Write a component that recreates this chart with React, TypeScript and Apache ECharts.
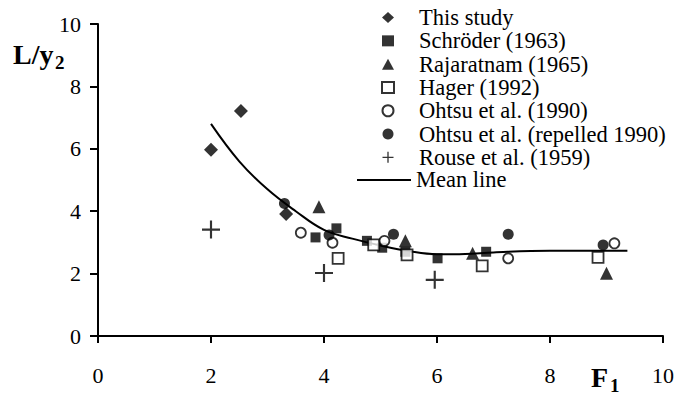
import React, { useEffect, useRef } from "react";
import * as echarts from "echarts";

// Hydraulic jump length ratio L/y2 against inflow Froude number F1
const thisStudy: [number, number][] = [
  [2.0, 5.97],
  [2.53, 7.21],
  [3.33, 3.91],
];
const schroder: [number, number][] = [
  [3.85, 3.16],
  [4.22, 3.45],
  [4.76, 3.05],
  [5.03, 2.83],
  [5.44, 2.7],
  [6.01, 2.49],
  [6.87, 2.7],
];
const rajaratnam: [number, number][] = [
  [3.91, 4.14],
  [5.44, 3.05],
  [6.63, 2.65],
  [9.0, 2.01],
];
const hager: [number, number][] = [
  [4.25, 2.49],
  [4.88, 2.92],
  [5.47, 2.6],
  [6.8, 2.25],
  [8.85, 2.52],
];
const ohtsu: [number, number][] = [
  [3.59, 3.31],
  [4.15, 2.99],
  [5.07, 3.05],
  [7.26, 2.49],
  [9.14, 2.97],
];
const ohtsuRepelled: [number, number][] = [
  [3.3, 4.25],
  [4.09, 3.24],
  [5.23, 3.26],
  [7.26, 3.26],
  [8.94, 2.92],
];
const rouse: [number, number][] = [
  [2.0, 3.41],
  [4.0, 2.02],
  [5.96, 1.8],
];
const meanLine: [number, number][] = [
  [2.0, 6.8],
  [2.5, 5.6],
  [3.0, 4.7],
  [3.5, 4.0],
  [4.0, 3.4],
  [4.5, 3.12],
  [5.0, 2.9],
  [5.5, 2.72],
  [6.0, 2.62],
  [6.5, 2.63],
  [7.0, 2.68],
  [8.0, 2.73],
  [9.37, 2.73],
];

const seriesNames = [
  "This study",
  "Schröder (1963)",
  "Rajaratnam (1965)",
  "Hager (1992)",
  "Ohtsu et al. (1990)",
  "Ohtsu et al. (repelled 1990)",
  "Rouse et al. (1959)",
];
const meanName = "Mean line";

const SERIF = "Times New Roman, Liberation Serif, DejaVu Serif, serif";
const PLUS = "path://M0,4.4H4.4V0H5.6V4.4H10V5.6H5.6V10H4.4V5.6H0Z";

export default function App() {
  const ref = useRef<HTMLDivElement>(null);

  useEffect(() => {
    if (!ref.current) return;
    const chart = echarts.init(ref.current, null, { renderer: "svg" });

    const filled = { color: "#000" };
    const hollow = { color: "#fff", borderColor: "#000", borderWidth: 1.8 };

    const scatter = (
      name: string,
      data: [number, number][],
      symbol: string,
      symbolSize: number,
      itemStyle: any
    ) => ({
      type: "scatter",
      name,
      data,
      symbol,
      symbolSize,
      itemStyle,
      z: 3,
    });

    const legendText = {
      fontFamily: SERIF,
      fontSize: 22.5,
      color: "#000",
      lineHeight: 23.3,
    };

    chart.setOption({
      animation: false,
      backgroundColor: "#fff",
      textStyle: { fontFamily: SERIF },
      grid: { left: 98, right: 14, top: 24, bottom: 63 },
      legend: [
        {
          data: seriesNames,
          orient: "vertical",
          left: 381,
          top: 5.9,
          padding: 0,
          itemWidth: 12,
          itemHeight: 11,
          itemGap: 0,
          selectedMode: false,
          textStyle: { ...legendText, padding: [0, 0, 0, 20] },
        },
        {
          data: [{ name: meanName, icon: "rect" }],
          orient: "vertical",
          left: 357,
          top: 168.3,
          padding: 0,
          itemWidth: 54,
          itemHeight: 2,
          selectedMode: false,
          textStyle: { ...legendText, padding: [0, 0, 0, 0] },
        },
      ],
      xAxis: {
        type: "value",
        min: 0,
        max: 10,
        interval: 2,
        splitLine: { show: false },
        axisLine: { onZero: false, lineStyle: { color: "#000", width: 2 } },
        axisTick: { show: true, inside: false, length: 7, lineStyle: { color: "#000", width: 2 } },
        axisLabel: { margin: 28, fontFamily: SERIF, fontSize: 22, color: "#000" },
      },
      yAxis: {
        type: "value",
        min: 0,
        max: 10,
        interval: 2,
        splitLine: { show: false },
        axisLine: { show: true, onZero: false, lineStyle: { color: "#000", width: 2 } },
        axisTick: { show: true, inside: false, length: 8, lineStyle: { color: "#000", width: 2 } },
        axisLabel: { margin: 17, fontFamily: SERIF, fontSize: 22, color: "#000" },
      },
      graphic: [
        {
          type: "text",
          left: 13,
          top: 40,
          style: { text: "L/y", fontFamily: SERIF, fontSize: 28, fontWeight: "bold", fill: "#000" },
        },
        {
          type: "text",
          left: 55,
          top: 53,
          style: { text: "2", fontFamily: SERIF, fontSize: 19, fontWeight: "bold", fill: "#000" },
        },
        {
          type: "text",
          left: 591,
          top: 363,
          style: { text: "F", fontFamily: SERIF, fontSize: 28, fontWeight: "bold", fill: "#000" },
        },
        {
          type: "text",
          left: 610,
          top: 376,
          style: { text: "1", fontFamily: SERIF, fontSize: 19, fontWeight: "bold", fill: "#000" },
        },
      ],
      series: [
        scatter(seriesNames[0], thisStudy, "diamond", 14, filled),
        scatter(seriesNames[1], schroder, "rect", 10, filled),
        scatter(seriesNames[2], rajaratnam, "triangle", 13, filled),
        scatter(seriesNames[3], hager, "rect", 11, hollow),
        scatter(seriesNames[4], ohtsu, "circle", 10, hollow),
        scatter(seriesNames[5], ohtsuRepelled, "circle", 11, filled),
        scatter(seriesNames[6], rouse, PLUS, 18, filled),
        {
          type: "line",
          name: meanName,
          data: meanLine,
          smooth: 0.4,
          symbol: "none",
          showSymbol: false,
          lineStyle: { color: "#000", width: 2 },
          itemStyle: { color: "#000" },
          z: 2,
        },
      ],
    });

    return () => chart.dispose();
  }, []);

  return (
    <div
      ref={ref}
      style={{ position: "absolute", left: 0, top: 0, width: 677, height: 399 }}
    />
  );
}
